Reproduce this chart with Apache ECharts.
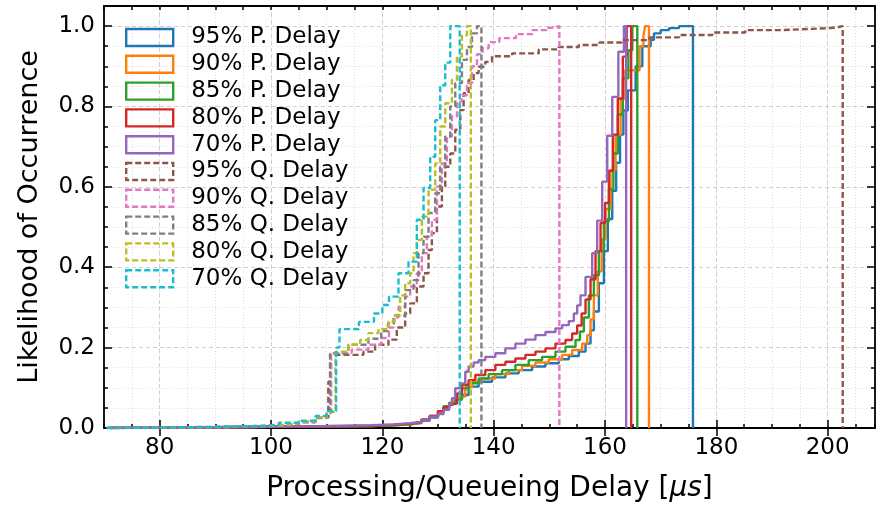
<!DOCTYPE html>
<html>
<head>
<meta charset="utf-8">
<script src="https://cdn.jsdelivr.net/npm/echarts@6/dist/echarts.min.js"></script>
<style>
  html, body { margin: 0; padding: 0; background: #fff; }
  #chart { width: 876px; height: 510px; }
</style>
</head>
<body>
<div id="chart"></div>
<script>
  // 图例名称与颜色
  const names = ['95% P. Delay', '90% P. Delay', '85% P. Delay', '80% P. Delay', '70% P. Delay',
    '95% Q. Delay', '90% Q. Delay', '85% Q. Delay', '80% Q. Delay', '70% Q. Delay'];
  const colors = ['#1f77b4', '#ff7f0e', '#2ca02c', '#d62728', '#9467bd',
    '#8c564b', '#e377c2', '#7f7f7f', '#bcbd22', '#17becf'];
  const xTicks = [80, 100, 120, 140, 160, 180, 200];

  // 每条累积曲线: x 为台阶左沿(最后一个为右端), y 为累积概率
  const p95X = [71, 80, 90, 100, 110, 118, 122, 125, 127, 128.5, 130, 131, 132, 133, 134.3, 135.5, 137.3, 139.7, 142.1, 144.5, 146.9, 149.3, 151.7, 153.5, 155.3, 156.5, 157.4, 158, 158.9, 159.8, 160.5, 161.3, 162, 162.7, 163.3, 164.1, 165.5, 166.7, 168.2, 168.8, 170, 171.5, 173.3, 175.8];
  const p95Y = [0.001, 0.002, 0.003, 0.004, 0.005, 0.007, 0.009, 0.012, 0.018, 0.026, 0.038, 0.05, 0.062, 0.072, 0.082, 0.103, 0.115, 0.126, 0.136, 0.144, 0.153, 0.161, 0.171, 0.179, 0.19, 0.21, 0.243, 0.29, 0.36, 0.44, 0.52, 0.59, 0.66, 0.73, 0.79, 0.84, 0.90, 0.95, 0.966, 0.982, 0.99, 0.995, 1.0];

  const p90X = [71, 80, 90, 100, 110, 118, 122, 125, 127, 128.5, 130, 131, 132, 133, 133.7, 134.9, 136.1, 137.9, 140.3, 142.7, 145.1, 147.5, 149.9, 152.3, 154.1, 155.9, 156.8, 157.4, 158, 158.7, 159.4, 160.1, 161, 161.9, 162.8, 163.6, 166.2, 166.9, 167.2, 167.9];
  const p90Y = [0.001, 0.002, 0.003, 0.004, 0.005, 0.007, 0.009, 0.013, 0.019, 0.028, 0.04, 0.052, 0.063, 0.07, 0.078, 0.101, 0.115, 0.123, 0.134, 0.144, 0.155, 0.163, 0.171, 0.182, 0.194, 0.21, 0.231, 0.27, 0.33, 0.39, 0.47, 0.545, 0.641, 0.73, 0.82, 0.89, 0.95, 0.975, 1.0];

  const p85X = [71, 80, 90, 100, 110, 118, 122, 125, 127, 128.5, 130, 131, 132, 133.1, 134.3, 135.5, 137.3, 139.1, 141.5, 143.9, 146.3, 148.7, 151.1, 152.9, 154.7, 155.5, 156.2, 157.1, 158, 158.9, 159.8, 160.7, 161.5, 162.3, 163.2, 164.2, 164.9, 165.8];
  const p85Y = [0.001, 0.002, 0.003, 0.004, 0.005, 0.007, 0.01, 0.014, 0.02, 0.03, 0.042, 0.054, 0.062, 0.07, 0.099, 0.111, 0.123, 0.134, 0.144, 0.157, 0.169, 0.177, 0.19, 0.202, 0.219, 0.24, 0.275, 0.33, 0.38, 0.44, 0.514, 0.594, 0.683, 0.78, 0.87, 0.94, 1.0];

  const p80X = [71, 80, 90, 100, 110, 118, 122, 125, 127, 128.5, 130, 131, 132, 132.5, 133.4, 134.3, 135.5, 136.7, 138.5, 140.3, 142.1, 143.9, 145.7, 147.5, 149.3, 151.1, 152.9, 154.1, 155, 155.8, 156.5, 157.4, 158.3, 159.2, 160, 160.7, 161.4, 162.3, 163.2, 163.9, 164.7];
  const p80Y = [0.001, 0.002, 0.003, 0.004, 0.006, 0.008, 0.011, 0.015, 0.021, 0.03, 0.042, 0.052, 0.058, 0.061, 0.086, 0.107, 0.119, 0.132, 0.144, 0.157, 0.165, 0.173, 0.182, 0.19, 0.198, 0.21, 0.219, 0.235, 0.255, 0.285, 0.32, 0.37, 0.44, 0.51, 0.56, 0.64, 0.73, 0.82, 0.924, 1.0];

  const p70X = [71, 80, 90, 100, 110, 118, 122, 125, 127, 128.5, 130, 131, 132, 132.5, 133.1, 134, 134.9, 135.5, 136.4, 137.3, 138.5, 140.3, 142.1, 143.9, 145.7, 147.5, 149.3, 151.1, 152.3, 153.5, 154.4, 155, 155.6, 156.5, 157.7, 158.6, 159.5, 160.4, 161.3, 162.4, 163.4, 163.8];
  const p70Y = [0.001, 0.002, 0.003, 0.005, 0.007, 0.009, 0.012, 0.015, 0.02, 0.028, 0.035, 0.045, 0.06, 0.074, 0.099, 0.111, 0.14, 0.153, 0.163, 0.169, 0.177, 0.186, 0.198, 0.21, 0.22, 0.231, 0.239, 0.248, 0.256, 0.266, 0.285, 0.305, 0.33, 0.376, 0.435, 0.516, 0.613, 0.727, 0.824, 0.936, 1.0];

  const q95X = [70.5, 80, 90, 98, 102, 105, 108, 110.3, 110.7, 116.6, 118.7, 121.1, 122.6, 124.1, 125, 126.2, 127.4, 128.3, 128.9, 129.8, 130.7, 131.3, 132.2, 133.1, 134, 134.6, 135.5, 136.4, 137.3, 138.5, 139.7, 143.3, 148.1, 151.7, 155.3, 159, 163, 168, 173.3, 179.3, 185.2, 191.2, 197.2, 201.4, 202.7];
  const q95Y = [0.001, 0.002, 0.004, 0.006, 0.01, 0.015, 0.026, 0.115, 0.182, 0.19, 0.207, 0.22, 0.25, 0.285, 0.31, 0.352, 0.385, 0.443, 0.485, 0.551, 0.601, 0.65, 0.683, 0.742, 0.791, 0.833, 0.866, 0.883, 0.899, 0.911, 0.925, 0.932, 0.942, 0.948, 0.953, 0.959, 0.965, 0.972, 0.978, 0.984, 0.99, 0.993, 0.996, 1.0];

  const q90X = [70.5, 80, 90, 98, 102, 105, 108, 110, 110.8, 114.5, 117.5, 119.8, 121.2, 122, 122.9, 124.1, 125, 126.2, 127.1, 128, 128.9, 129.8, 130.7, 131.6, 132.5, 133.4, 134.3, 135.2, 136.1, 137, 138, 139.1, 141, 144, 147, 149.5, 150.8, 151.8];
  const q90Y = [0.001, 0.002, 0.004, 0.006, 0.01, 0.015, 0.025, 0.037, 0.187, 0.195, 0.207, 0.224, 0.25, 0.275, 0.302, 0.327, 0.352, 0.385, 0.435, 0.476, 0.518, 0.601, 0.658, 0.725, 0.775, 0.812, 0.828, 0.858, 0.90, 0.93, 0.945, 0.96, 0.97, 0.98, 0.99, 0.996, 1.0];

  const q85X = [70.5, 80, 90, 98, 102, 105, 108, 110, 110.6, 113.9, 117.5, 119.8, 121, 122.1, 124.1, 125.6, 126.5, 127.4, 128.3, 129.5, 130.4, 131.3, 132.2, 133.1, 134.3, 135.2, 136.1, 137, 137.8];
  const q85Y = [0.001, 0.002, 0.004, 0.006, 0.01, 0.015, 0.026, 0.038, 0.185, 0.207, 0.222, 0.241, 0.26, 0.28, 0.343, 0.368, 0.435, 0.476, 0.535, 0.584, 0.65, 0.725, 0.80, 0.858, 0.916, 0.948, 0.982, 1.0];

  const q80X = [70.5, 80, 90, 98, 102, 105, 108, 110, 111.6, 113.9, 116, 117.5, 119.3, 121.1, 122.2, 123.2, 124.1, 125, 125.6, 126.2, 127.1, 128.3, 129.5, 130.4, 131.3, 132.5, 133.4, 134.3, 135.2, 135.9];
  const q80Y = [0.001, 0.003, 0.005, 0.007, 0.011, 0.016, 0.027, 0.04, 0.19, 0.207, 0.219, 0.236, 0.246, 0.265, 0.28, 0.33, 0.36, 0.385, 0.435, 0.468, 0.526, 0.593, 0.658, 0.75, 0.808, 0.866, 0.924, 0.977, 1.0];

  const q70X = [70.5, 80, 90, 98, 101.4, 105, 108, 110, 111.7, 112.3, 115.8, 118.5, 120, 121.2, 122.9, 124.7, 126.2, 127.4, 128.6, 129.5, 130.4, 131.3, 132.2, 133.9];
  const q70Y = [0.001, 0.003, 0.005, 0.008, 0.013, 0.018, 0.03, 0.042, 0.20, 0.246, 0.264, 0.285, 0.306, 0.327, 0.385, 0.414, 0.518, 0.597, 0.675, 0.766, 0.853, 0.909, 1.0];

  const curveX = [p95X, p90X, p85X, p80X, p70X, q95X, q90X, q85X, q80X, q70X];
  const curveY = [p95Y, p90Y, p85Y, p80Y, p70Y, q95Y, q90Y, q85Y, q80Y, q70Y];

  // 台阶直方图轮廓: 从 0 升起, 末端落回 0
  function stepData(xs, ys) {
    let pts = [[xs[0], 0]];
    for (let i = 0; i < ys.length; i++) {
      pts.push([xs[i], ys[i]]);
    }
    pts.push([xs[xs.length - 1], 0]);
    return pts;
  }

  const font = 'DejaVu Sans';
  const dash = [6, 3];
  const tickStyle = {color: '#000', width: 1.5};
  const frameLine = {show: true, onZero: false, lineStyle: {color: '#000', width: 1.8}};

  let chart = echarts.init(document.getElementById('chart'));
  chart.setOption({
    animation: false,
    textStyle: {fontFamily: font},
    grid: {left: 104, right: 1, top: 6, bottom: 82},
    legend: {
      orient: 'vertical',
      left: 125,
      top: 26,
      padding: 0,
      icon: 'rect',
      itemWidth: 47,
      itemHeight: 17,
      itemGap: 3.8,
      textStyle: {fontSize: 23, color: '#000', fontFamily: font, padding: [0, 0, 0, 13]},
      data: names.map((n, i) => ({
        name: n,
        itemStyle: {
          color: 'rgba(0,0,0,0)',
          borderColor: colors[i],
          borderWidth: 2.4,
          borderType: i >= 5 ? dash : 'solid'
        }
      }))
    },
    xAxis: [
      {
        type: 'value', min: 70, max: 208.5, interval: 5, position: 'bottom',
        axisLine: frameLine,
        axisTick: {inside: true, length: 4, lineStyle: tickStyle},
        axisLabel: {show: false},
        splitLine: {show: true, lineStyle: {color: '#e0e0e0', type: [1, 2], width: 1}}
      },
      {
        type: 'value', min: 70, max: 208.5, position: 'bottom',
        axisLine: {show: false},
        axisTick: {inside: true, length: 8, lineStyle: tickStyle, customValues: xTicks},
        axisLabel: {customValues: xTicks, fontSize: 23, color: '#000', margin: 9, fontFamily: font},
        splitLine: {show: true, lineStyle: {color: '#cfcfcf', type: [4, 3], width: 1}},
        name: 'Processing/Queueing Delay [{i|μs}]',
        nameLocation: 'middle',
        nameGap: 47,
        nameTextStyle: {
          fontSize: 28, color: '#000', fontFamily: font,
          rich: {i: {fontSize: 28, fontStyle: 'italic', fontFamily: font, color: '#000'}}
        }
      },
      {
        type: 'value', min: 70, max: 208.5, interval: 5, position: 'top',
        axisLine: frameLine,
        axisTick: {inside: true, length: 4, lineStyle: tickStyle},
        axisLabel: {show: false},
        splitLine: {show: false}
      },
      {
        type: 'value', min: 70, max: 208.5, position: 'top',
        axisLine: {show: false},
        axisTick: {inside: true, length: 8, lineStyle: tickStyle, customValues: xTicks},
        axisLabel: {show: false, customValues: xTicks},
        splitLine: {show: false}
      }
    ],
    yAxis: [
      {
        type: 'value', min: 0, max: 1.05, interval: 0.2, position: 'left',
        axisLine: frameLine,
        axisTick: {inside: true, length: 8, lineStyle: tickStyle},
        minorTick: {show: true, splitNumber: 4, length: 4, lineStyle: tickStyle},
        axisLabel: {
          formatter: v => v.toFixed(1), fontSize: 23, color: '#000', margin: 9,
          showMaxLabel: false, fontFamily: font
        },
        splitLine: {show: true, lineStyle: {color: '#cfcfcf', type: [4, 3], width: 1}},
        minorSplitLine: {show: true, lineStyle: {color: '#e0e0e0', type: [1, 2], width: 1}},
        name: 'Likelihood of Occurrence',
        nameLocation: 'middle',
        nameGap: 61,
        nameTextStyle: {fontSize: 27, color: '#000', fontFamily: font}
      },
      {
        type: 'value', min: 0, max: 1.05, interval: 0.2, position: 'right',
        axisLine: frameLine,
        axisTick: {inside: true, length: 8, lineStyle: tickStyle},
        minorTick: {show: true, splitNumber: 4, length: 4, lineStyle: tickStyle},
        axisLabel: {show: false},
        splitLine: {show: false}
      }
    ],
    series: names.map((n, i) => ({
      name: n,
      type: 'line',
      step: 'end',
      symbol: 'none',
      xAxisIndex: 0,
      yAxisIndex: 0,
      data: stepData(curveX[i], curveY[i]),
      lineStyle: {
        color: colors[i],
        width: 2.4,
        type: i >= 5 ? dash : 'solid'
      },
      itemStyle: {color: colors[i]}
    }))
  });
</script>
</body>
</html>
